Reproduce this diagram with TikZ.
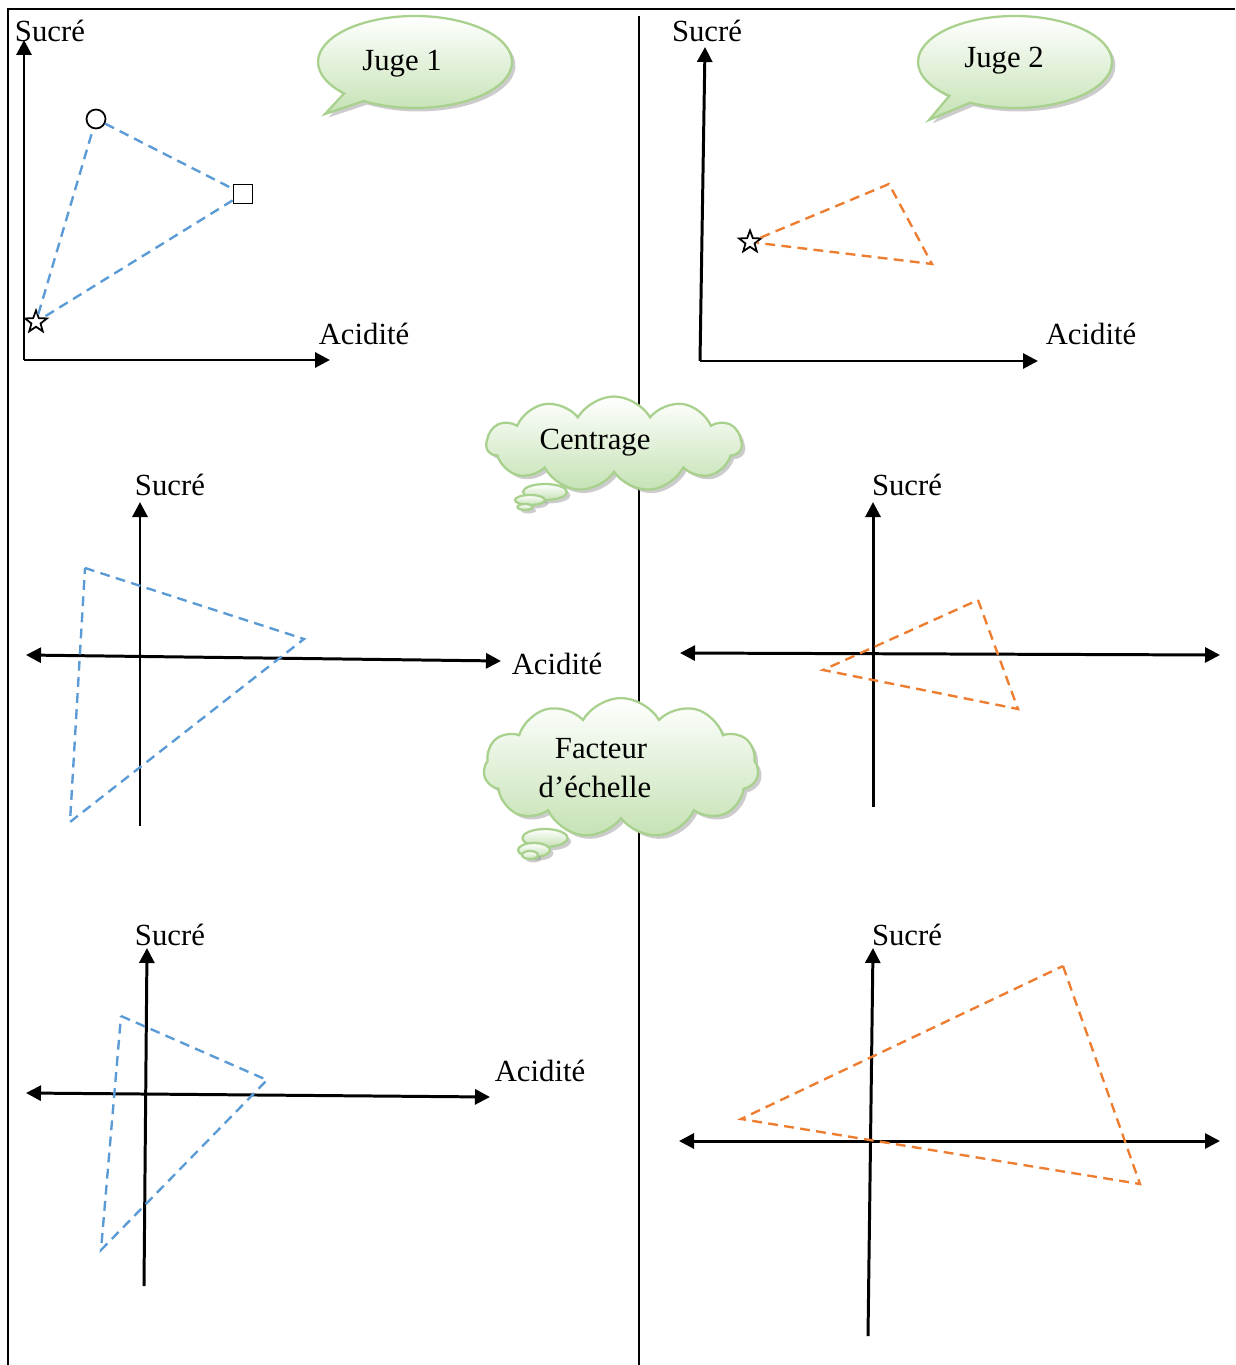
\documentclass[tikz,border=0pt]{standalone}
\usepackage{fontspec}
\setmainfont{Liberation Serif}
\usetikzlibrary{arrows.meta,shapes.geometric,shapes.callouts,shapes.symbols,shadows}
\definecolor{bluedash}{RGB}{91,155,213}
\definecolor{orangedash}{RGB}{237,125,49}
\definecolor{bubbleedge}{RGB}{169,209,142}
\definecolor{bubblefill}{RGB}{197,226,180}
\begin{document}
\begin{tikzpicture}[x=0.02cm,y=-0.02cm,
  axis/.style={line width=1.7pt,black},
  tip/.style={-{Triangle[length=0.3cm,width=0.3cm]}},
  tips/.style={{Triangle[length=0.3cm,width=0.3cm]}-{Triangle[length=0.3cm,width=0.3cm]}},
  lbl/.style={font=\fontsize{17.5}{21}\selectfont,inner sep=0pt},
  bluetri/.style={draw=bluedash,line width=1.35pt,dash pattern=on 5.6pt off 3.6pt},
  orangetri/.style={draw=orangedash,line width=1.35pt,dash pattern=on 5.6pt off 3.6pt},
  greenfill/.style={draw=bubbleedge,line width=1.3pt,top color=white,bottom color=bubblefill,
    drop shadow={shadow xshift=0.07cm,shadow yshift=-0.07cm,fill=black!40}},
  bubble/.style={greenfill,ellipse callout,minimum width=3.88cm,minimum height=1.84cm,inner sep=0pt},
  thought/.style={greenfill,cloud,cloud puffs=11,cloud puff arc=120,inner sep=0pt},
  puff/.style={greenfill,ellipse,inner sep=0pt},
  marker/.style={draw=black,fill=white,line width=1pt,inner sep=0pt},
  starmark/.style={marker,star,star points=5,star point ratio=2.4,minimum size=0.46cm}
]
\useasboundingbox (0,0) rectangle (1235,1365);

% frame and divider
\coordinate (fbl) at (8,1365);
\coordinate (ftl) at (8,9);
\coordinate (ftr) at (1235,9);
\draw[line width=1.2pt] (fbl) -- (ftl) -- (ftr);
\coordinate (dtop) at (639,16);
\coordinate (dbot) at (639,1365);
\draw[line width=0.9pt] (dtop) -- (dbot);

% ---------- Panel 1 ----------
\coordinate (o1) at (24,360);
\coordinate (y1) at (24,40);
\coordinate (x1) at (330,360);
\draw[axis,tip] (o1) -- (y1);
\draw[axis,tip] (o1) -- (x1);
\node[lbl] (s1) at (50,31) {Sucré};
\node[lbl] (a1) at (364,334) {Acidité};
\node[marker,circle,minimum size=0.38cm] (c1) at (96,119) {};
\node[marker,rectangle,minimum size=0.38cm] (q1) at (243,194) {};
\node[starmark] (st1) at (36,322) {};
\draw[bluetri] (c1) -- (q1);
\draw[bluetri] (q1) -- (st1);
\draw[bluetri] (st1) -- (c1);
\node[bubble,callout absolute pointer={(325,114)}] (b1) at (415,62) {};
\node[lbl,anchor=base] (j1) at (402,71) {Juge 1};

% ---------- Panel 2 ----------
\coordinate (o2) at (700,361);
\coordinate (y2) at (705,47);
\coordinate (x2) at (1038,361);
\draw[axis,tip] (o2) -- (y2);
\draw[axis,tip] (o2) -- (x2);
\node[lbl] (s2) at (707,31) {Sucré};
\node[lbl] (a2) at (1091,334) {Acidité};
\node[starmark] (st2) at (750,242) {};
\coordinate (t2a) at (889,184);
\coordinate (t2b) at (932,264);
\draw[orangetri] (st2) -- (t2a) -- (t2b) -- (st2);
\node[bubble,callout absolute pointer={(929,120)}] (b2) at (1015,62) {};
\node[lbl,anchor=base] (j2) at (1004,68) {Juge 2};

% ---------- Centrage cloud ----------
\node[thought,minimum width=5.1cm,minimum height=1.9cm] (cl1) at (614,444) {};
\node[puff,minimum width=0.88cm,minimum height=0.32cm] (p1a) at (545,492) {};
\node[puff,minimum width=0.6cm,minimum height=0.2cm] (p1b) at (530,500) {};
\node[puff,minimum width=0.3cm,minimum height=0.12cm] (p1c) at (525,507) {};
\node[lbl,anchor=base] (ct) at (595,449) {Centrage};

% ---------- Panel 3 ----------
\coordinate (o3b) at (140,826);
\coordinate (y3) at (140,502);
\coordinate (xl3) at (26,655);
\coordinate (xr3) at (501,661);
\draw[axis,tip] (o3b) -- (y3);
\draw[axis,tips] (xl3) -- (xr3);
\node[lbl] (s3) at (170,485) {Sucré};
\node[lbl] (a3) at (557,664) {Acidité};
\coordinate (t3a) at (85,568);
\coordinate (t3b) at (304,639);
\coordinate (t3c) at (70,822);
\draw[bluetri] (t3a) -- (t3b) -- (t3c) -- cycle;

% ---------- Panel 4 ----------
\coordinate (o4b) at (873,807);
\coordinate (y4) at (873,502);
\coordinate (xl4) at (680,653);
\coordinate (xr4) at (1220,655);
\draw[axis,tip] (o4b) -- (y4);
\draw[axis,tips] (xl4) -- (xr4);
\node[lbl] (s4) at (907,485) {Sucré};
\coordinate (t4a) at (978,600);
\coordinate (t4b) at (1018,709);
\coordinate (t4c) at (823,670);
\draw[orangetri] (t4a) -- (t4b) -- (t4c) -- cycle;

% ---------- Facteur d'échelle cloud ----------
\node[thought,minimum width=5.5cm,minimum height=2.8cm] (cl2) at (621,768) {};
\node[puff,minimum width=0.9cm,minimum height=0.36cm] (p2a) at (545,838) {};
\node[puff,minimum width=0.64cm,minimum height=0.28cm] (p2b) at (534,850) {};
\node[puff,minimum width=0.32cm,minimum height=0.16cm] (p2c) at (530,855) {};
\node[lbl,anchor=base] (ft1) at (601,758) {Facteur};
\node[lbl,anchor=base] (ft2) at (595,797) {d’échelle};

% ---------- Panel 5 ----------
\coordinate (o5b) at (144,1286);
\coordinate (y5) at (147,948);
\coordinate (xl5) at (26,1093);
\coordinate (xr5) at (490,1097);
\draw[axis,tip] (o5b) -- (y5);
\draw[axis,tips] (xl5) -- (xr5);
\node[lbl] (s5) at (170,935) {Sucré};
\node[lbl] (a5) at (540,1071) {Acidité};
\coordinate (t5a) at (121,1016);
\coordinate (t5b) at (267,1080);
\coordinate (t5c) at (101,1250);
\draw[bluetri] (t5a) -- (t5b) -- (t5c) -- cycle;

% ---------- Panel 6 ----------
\coordinate (o6b) at (868,1336);
\coordinate (y6) at (873,948);
\coordinate (xl6) at (679,1141);
\coordinate (xr6) at (1220,1141);
\draw[axis,tip] (o6b) -- (y6);
\draw[axis,tips] (xl6) -- (xr6);
\node[lbl] (s6) at (907,935) {Sucré};
\coordinate (t6a) at (1063,966);
\coordinate (t6b) at (1140,1184);
\coordinate (t6c) at (741,1119);
\draw[orangetri] (t6a) -- (t6b) -- (t6c) -- cycle;
\end{tikzpicture}
\end{document}
